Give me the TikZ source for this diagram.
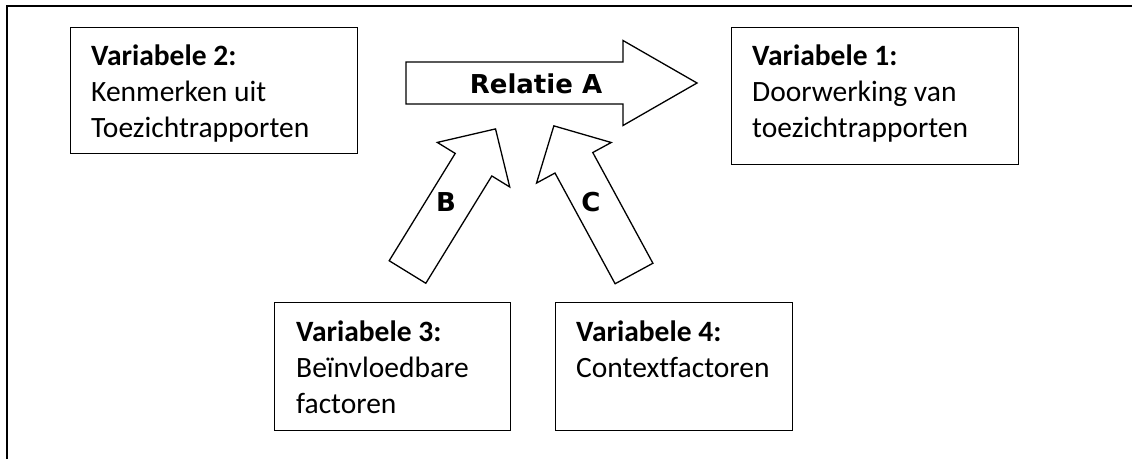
\documentclass[tikz,border=0pt]{standalone}
\usepackage{fontspec}
\setmainfont{Carlito}[Ligatures=NoCommon]
\newfontfamily\arrowfont{DejaVu Sans}
\usetikzlibrary{positioning}

\tikzset{
  varbox/.style={draw, line width=1.2pt, rectangle, inner sep=0pt, anchor=north west},
  vartext/.style={inner sep=0pt, align=left, font=\fontsize{29.5}{36}\selectfont},
  blockarrow/.style={draw, line width=1.3pt, fill=white, line join=miter},
  arrowlabel/.style={inner sep=0pt, font=\fontsize{26}{30}\selectfont\arrowfont\bfseries}
}

\begin{document}
\begin{tikzpicture}[x=1pt,y=1pt]
  \useasboundingbox (0,0) rectangle (1132,459);
  \draw[line width=2pt] (6.5,0) -- (6.5,452.5) -- (1132,452.5);

  \node[varbox, minimum width=287pt, minimum height=126pt] (var2) at (70,432) {};
  \node[vartext, below right=18pt and 21pt of var2.north west] (var2txt)
    {\textbf{Variabele 2:}\\Kenmerken uit\\Toezichtrapporten};
  \node[varbox, minimum width=287pt, minimum height=137pt] (var1) at (731,432) {};
  \node[vartext, below right=18pt and 21pt of var1.north west] (var1txt)
    {\textbf{Variabele 1:}\\Doorwerking van\\toezichtrapporten};
  \node[varbox, minimum width=236pt, minimum height=128pt] (var3) at (274,157) {};
  \node[vartext, below right=19pt and 22pt of var3.north west] (var3txt)
    {\textbf{Variabele 3:}\\Beïnvloedbare\\factoren};
  \node[varbox, minimum width=237pt, minimum height=128pt] (var4) at (555,157) {};
  \node[vartext, below right=19pt and 21pt of var4.north west] (var4txt)
    {\textbf{Variabele 4:}\\Contextfactoren};

  \coordinate (tailA) at (406,376);
  \coordinate (tailB) at (407.5,187);
  \coordinate (tailC) at (634,185.5);
  \draw[blockarrow, shift={(tailA)}]
    (0,-21) -- (217,-21) -- (217,-42.5) -- (291,0) -- (217,42.5) -- (217,21) -- (0,21) -- cycle;
  \draw[blockarrow, shift={(tailB)}, rotate=58.4]
    (0,-21.5) -- (126,-21.5) -- (126,-42.5) -- (168,0) -- (126,42.5) -- (126,21.5) -- (0,21.5) -- cycle;
  \draw[blockarrow, shift={(tailC)}, rotate=118.5]
    (0,-21.5) -- (126,-21.5) -- (126,-42.5) -- (168,0) -- (126,42.5) -- (126,21.5) -- (0,21.5) -- cycle;

  \node[arrowlabel] (relA) at (536,375) {Relatie A};
  \node[arrowlabel] (relB) at (446,257) {B};
  \node[arrowlabel] (relC) at (591,257) {C};
\end{tikzpicture}
\end{document}
